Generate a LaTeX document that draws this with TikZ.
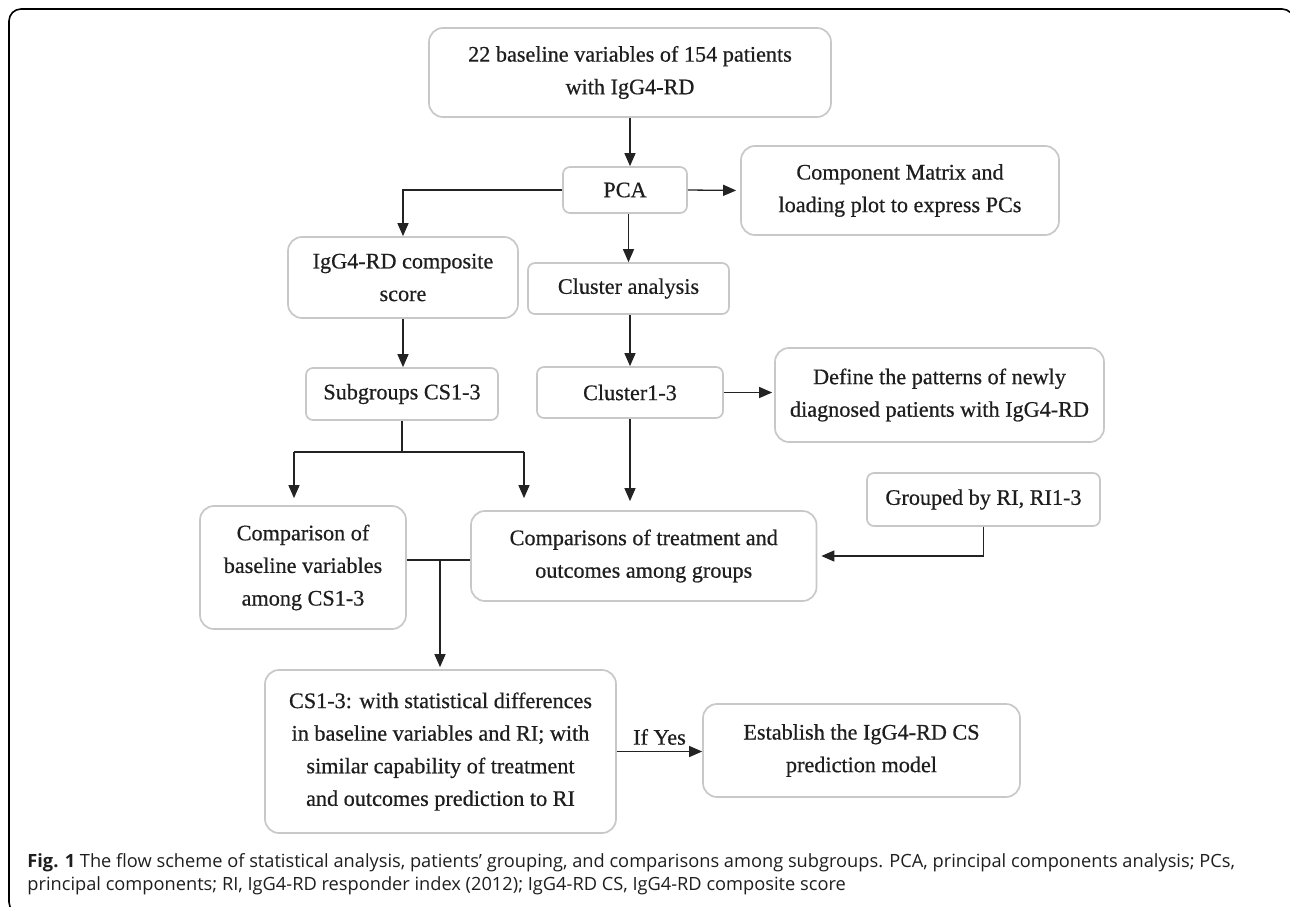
\documentclass[tikz,border=0pt]{standalone}
\usepackage{fontspec}
\setmainfont{Liberation Serif}
\newfontfamily\boxfam{Liberation Serif}[FakeBold=0.6]
\newfontfamily\capfont{Open Sans}
\usetikzlibrary{arrows.meta,calc}
\definecolor{boxgray}{RGB}{200,200,200}
\definecolor{txt}{RGB}{30,30,30}
\definecolor{arrc}{RGB}{35,35,35}
\newcommand{\boxfont}{\boxfam\fontsize{11.1pt}{16.3pt}\selectfont}
\newcommand{\capsize}{\fontsize{9.12pt}{12pt}\selectfont}
\begin{document}
\begin{tikzpicture}[x=0.5pt,y=-0.5pt,
  box/.style={draw=boxgray, line width=0.85pt, rounded corners=7pt, align=center,
    inner sep=0pt, font=\boxfont, text=txt},
  smallbox/.style={box, rounded corners=3.5pt},
  arr/.style={draw=arrc, line width=0.65pt, -{Triangle[length=6.5pt,width=5.5pt]}},
  ln/.style={draw=arrc, line width=0.65pt}]
\useasboundingbox (0,0) rectangle (1290,906);
\clip (0,0) rectangle (1290,906);
\draw[line width=0.8pt, rounded corners=6pt] (9,9) rectangle (1294,914);

\node[box, minimum width=201pt, minimum height=44.5pt] (top) at (630,72.5)
  {22 baseline variables of 154 patients\\with IgG4-RD};
\node[smallbox, minimum width=62pt, minimum height=23pt] (pca) at (625,190) {PCA};
\node[box, minimum width=159pt, minimum height=44.5pt] (comp) at (900,190.5)
  {Component Matrix and\\loading plot to express PCs};
\node[box, minimum width=115pt, minimum height=40.5pt] (comps) at (403,277.5)
  {IgG4-RD composite\\score};
\node[smallbox, minimum width=100.5pt, minimum height=25.5pt] (ca) at (628.5,288.5)
  {Cluster analysis};
\node[smallbox, minimum width=96pt, minimum height=26pt] (sub) at (402,394)
  {Subgroups CS1-3};
\node[smallbox, minimum width=93pt, minimum height=25.5pt] (c13) at (630,392.5)
  {Cluster1-3};
\node[box, minimum width=164.5pt, minimum height=47pt] (def) at (939.5,395)
  {Define the patterns of newly\\diagnosed patients with IgG4-RD};
\node[smallbox, minimum width=116.5pt, minimum height=26.5pt] (grp) at (983.5,499.5)
  {Grouped by RI, RI1-3};
\node[box, minimum width=172.75pt, minimum height=45pt] (ctr) at (643.75,556)
  {Comparisons of treatment and\\outcomes among groups};
\node[box, minimum width=103pt, minimum height=61.5pt] (cb) at (303,567.5)
  {Comparison of\\baseline variables\\among CS1-3};
\node[box, minimum width=175.5pt, minimum height=81.5pt] (cs) at (440.5,751.5)
  {CS1-3: with statistical differences\\in baseline variables and RI; with\\similar capability of treatment\\and outcomes prediction to RI};
\node[box, minimum width=158.5pt, minimum height=46.5pt] (est) at (861.5,750.5)
  {Establish the IgG4-RD CS\\prediction model};

\draw[arr] (top.south) -- (top.south |- pca.north);
\draw[arr] (pca.west) -| (comps.north);
\draw[arr, shorten >=2pt] (pca.east) -- (comp.west);
\draw[arr] (ca.north |- pca.south) -- (ca.north);
\draw[arr] (comps.south) -- (comps.south |- sub.north);
\draw[arr] (c13.north |- ca.south) -- (c13.north);
\draw[arr, shorten >=1pt] (c13.east) -- (c13.east -| def.west);

\coordinate (j1) at (402,452);
\coordinate (jl) at (294,452);
\coordinate (jr) at (524,452);
\draw[ln] (sub.south) -- (j1);
\draw[ln] (jl) -- (jr);
\draw[arr, shorten >=3.5pt] (jl) -- (jl |- cb.north);
\draw[arr, shorten >=6pt] (jr) -- (jr |- ctr.north);
\draw[arr, shorten >=4.5pt] (c13.south) -- (c13.south |- ctr.north);
\draw[arr, shorten >=2pt] (grp.south) |- (ctr.east);

\coordinate (j2) at (440,560);
\draw[ln] (j2 -| cb.east) -- (j2 -| ctr.west);
\draw[arr, shorten >=1pt] (j2) -- (j2 |- cs.north);
\draw[arr] (cs.east) -- node[above, font=\boxfont, text=txt, inner sep=3pt] (ify) {If Yes} (cs.east -| est.west);

\node[anchor=base west, font=\capfont\capsize, text=txt, inner sep=0pt] (cap1) at (27,867)
  {\textbf{Fig. 1} The flow scheme of statistical analysis, patients’ grouping, and comparisons among subgroups. PCA, principal components analysis; PCs,};
\node[anchor=base west, font=\capfont\capsize, text=txt, inner sep=0pt] (cap2) at (27,890)
  {principal components; RI, IgG4-RD responder index (2012); IgG4-RD CS, IgG4-RD composite score};
\end{tikzpicture}
\end{document}
